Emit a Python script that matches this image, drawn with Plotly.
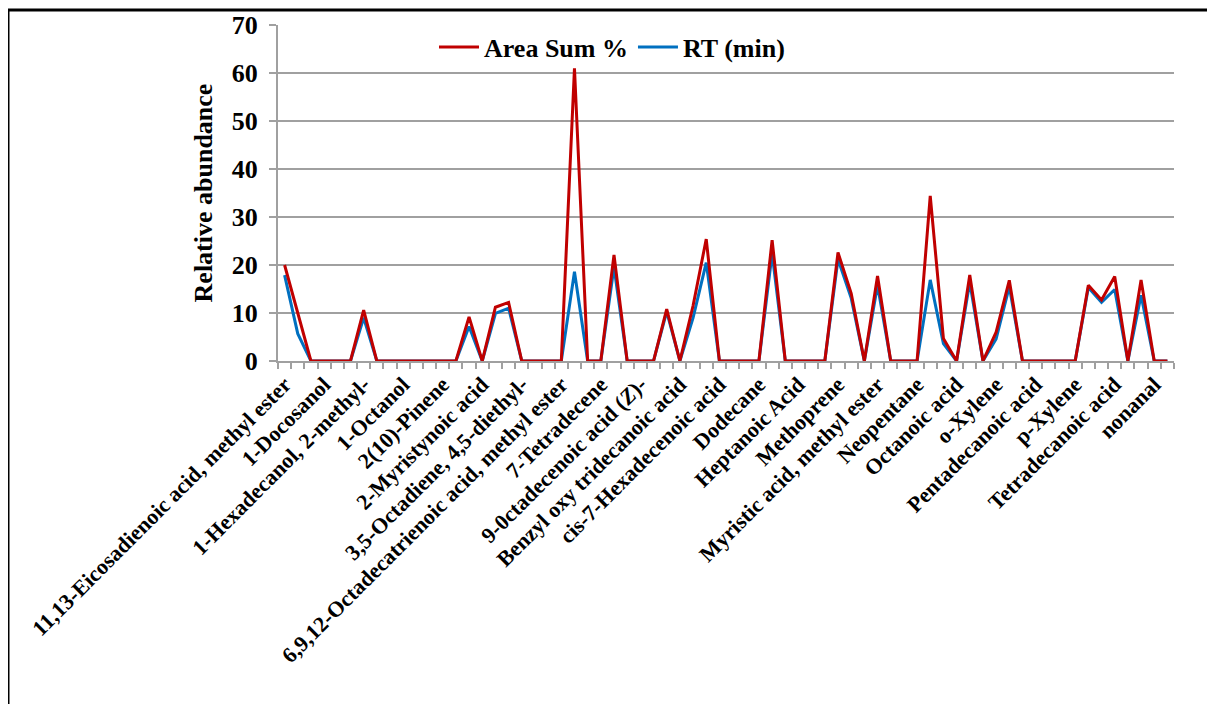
import plotly.graph_objects as go

# Category positions (68 compounds); only every third one is labelled on the axis
n_categories = 68
tick_labels = [
    "11,13-Eicosadienoic acid, methyl ester",
    "1-Docosanol",
    "1-Hexadecanol, 2-methyl-",
    "1-Octanol",
    "2(10)-Pinene",
    "2-Myristynoic acid",
    "3,5-Octadiene, 4,5-diethyl-",
    "6,9,12-Octadecatrienoic acid, methyl ester",
    "7-Tetradecene",
    "9-0ctadecenoic acid (<i>Z</i>)-",
    "Benzyl oxy tridecanoic acid",
    "cis-7-Hexadecenoic acid",
    "Dodecane",
    "Heptanoic Acid",
    "Methoprene",
    "Myristic acid, methyl ester",
    "Neopentane",
    "Octanoic acid",
    "o-Xylene",
    "Pentadecanoic acid",
    "p-Xylene",
    "Tetradecanoic acid",
    "nonanal",
]

area_sum = [
    20.0, 10.2, 0, 0, 0, 0, 10.6, 0, 0, 0,
    0, 0, 0, 0, 9.2, 0, 11.2, 12.2, 0, 0,
    0, 0, 61.0, 0, 0, 22.1, 0, 0, 0, 10.8,
    0, 11.5, 25.4, 0, 0, 0, 0, 25.2, 0, 0,
    0, 0, 22.6, 14.1, 0, 17.7, 0, 0, 0, 34.4,
    4.7, 0, 17.9, 0, 6.0, 16.8, 0, 0, 0, 0,
    0, 15.8, 12.7, 17.6, 0, 16.9, 0, 0,
]

rt_min = [
    17.9, 5.7, 0, 0, 0, 0, 9.0, 0, 0, 0,
    0, 0, 0, 0, 7.2, 0, 9.9, 11.0, 0, 0,
    0, 0, 18.6, 0, 0, 19.6, 0, 0, 0, 10.3,
    0, 9.0, 20.5, 0, 0, 0, 0, 22.4, 0, 0,
    0, 0, 21.2, 13.1, 0, 15.8, 0, 0, 0, 16.9,
    3.6, 0, 16.4, 0, 4.6, 15.5, 0, 0, 0, 0,
    0, 15.3, 12.2, 14.9, 0, 13.7, 0, 0,
]

x_idx = list(range(n_categories))
tick_vals = list(range(0, n_categories, 3))

FONT = "Liberation Serif, Times New Roman, serif"

fig = go.Figure()
fig.add_trace(go.Scatter(
    x=x_idx, y=rt_min, mode="lines", name="RT (min)",
    line=dict(color="#0070C0", width=3), legendrank=2,
))
fig.add_trace(go.Scatter(
    x=x_idx, y=area_sum, mode="lines", name="Area Sum %",
    line=dict(color="#C00000", width=3), legendrank=1,
))

# the page body adds an 8px offset, so the figure is sized to the remaining area
OFF = 8
W, H = 1215 - OFF, 704 - OFF
ml, mt = 278 - OFF, 25 - OFF
mr = W - (1174 - OFF)
mb = H - (361 - OFF)
pw, ph = W - ml - mr, H - mt - mb

def px_x(p):
    return (p - OFF - ml) / pw

def px_y(p):
    return (H - mb - (p - OFF)) / ph

fig.update_layout(
    width=W, height=H,
    margin=dict(l=ml, r=mr, t=mt, b=mb, autoexpand=False),
    paper_bgcolor="white", plot_bgcolor="white",
    font=dict(family=FONT, color="black", size=22, weight="bold"),
    showlegend=True,
    legend=dict(
        orientation="h", x=px_x(612), xanchor="center",
        y=px_y(47), yanchor="middle",
        font=dict(family=FONT, size=26, weight="bold"),
        bgcolor="rgba(255,255,255,0)", itemwidth=40,
    ),
    xaxis=dict(
        range=[-0.5, n_categories - 0.5],
        tickmode="array", tickvals=tick_vals, ticktext=tick_labels,
        tickangle=-45, ticks="",
        tickfont=dict(family=FONT, size=22, weight="bold"),
        showgrid=False, zeroline=False,
        showline=True, linecolor="#A0A0A0", linewidth=2,
        minor=dict(tickmode="linear", tick0=-0.5, dtick=1, ticks="outside",
                   ticklen=6, tickcolor="#A0A0A0", tickwidth=1.5, showgrid=False),
        automargin=False,
    ),
    yaxis=dict(
        range=[0, 70], dtick=10, tick0=0,
        ticks="outside", ticklen=7, tickcolor="#A0A0A0", tickwidth=2,
        tickfont=dict(family=FONT, size=26, weight="bold"),
        ticklabelstandoff=6,
        showgrid=True, gridcolor="#A0A0A0", gridwidth=2,
        zeroline=False,
        showline=True, linecolor="#A0A0A0", linewidth=2,
        title=dict(text="Relative abundance", standoff=12,
                   font=dict(family=FONT, size=26, weight="bold")),
        automargin=False,
    ),
    shapes=[dict(
        type="rect", xref="paper", yref="paper",
        x0=px_x(8), x1=px_x(1240), y0=px_y(730), y1=px_y(10),
        line=dict(color="black", width=3), fillcolor="rgba(0,0,0,0)",
        layer="above",
    )],
)

fig.write_html("out.html")
